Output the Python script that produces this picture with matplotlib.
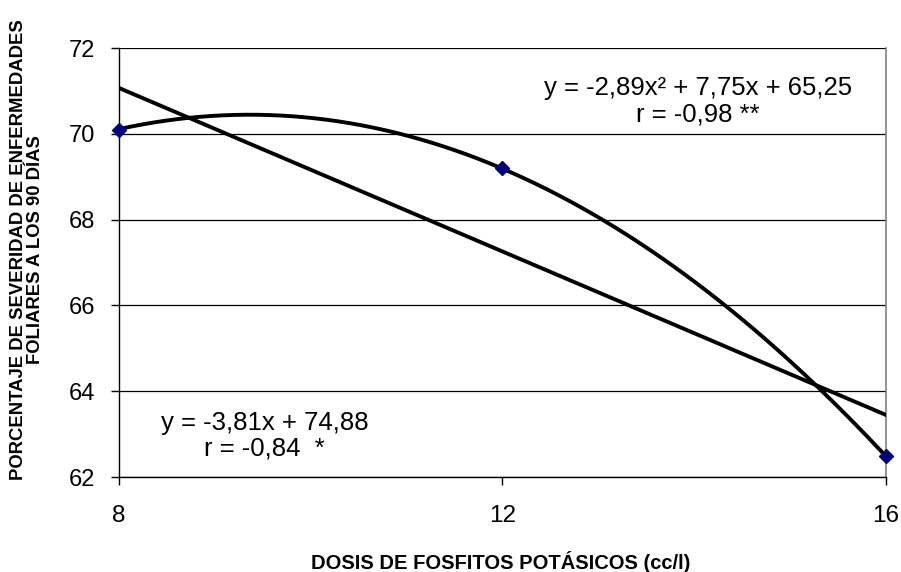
import numpy as np
import matplotlib.pyplot as plt

# Data
doses = ['8', '12', '16']
severity = [70.1, 69.2, 62.5]

# Trendline coefficients (x = 1, 2, 3 as in Excel)
lin_coef = [-3.81, 74.88]
quad_coef = [-2.89, 7.75, 65.25]

plt.rcParams['font.family'] = ['Liberation Sans', 'DejaVu Sans']

fig = plt.figure(figsize=(9.01, 5.72), dpi=100)
ax = fig.add_axes([0.132, 0.166, 0.851, 0.750])

xpos = np.arange(1, len(doses) + 1)
xs = np.linspace(1, 3, 200)

ax.plot(xs, np.polyval(quad_coef, xs), color='black', lw=2.8, zorder=3)
ax.plot(xs, np.polyval(lin_coef, xs), color='black', lw=2.8, zorder=3)
ax.plot(xpos, severity, linestyle='none', marker='D', color='#000080',
        markersize=7, zorder=4, clip_on=False)

ax.set_xlim(1, 3)
ax.set_ylim(62, 72)
ax.set_yticks([62, 64, 66, 68, 70, 72])
ax.set_xticks(xpos)
ax.set_xticklabels(doses)
ax.yaxis.grid(True, color='black', lw=0.9)
ax.set_axisbelow(True)

ax.spines['top'].set_visible(False)
ax.spines['right'].set_color('#808080')
ax.spines['right'].set_linewidth(1.2)
ax.spines['left'].set_linewidth(1.0)
ax.spines['bottom'].set_linewidth(1.0)
ax.tick_params(axis='both', direction='out', length=6, width=1.0)
ax.tick_params(axis='x', labelsize=17.5, pad=14)
ax.tick_params(axis='y', labelsize=17, pad=11)

ax.set_ylabel('PORCENTAJE DE SEVERIDAD DE ENFERMEDADES\nFOLIARES A LOS 90 DÍAS',
              fontsize=13.3, fontweight='bold', linespacing=0.95)
ax.yaxis.set_label_coords(-0.098, 0.53)
ax.set_xlabel('DOSIS DE FOSFITOS POTÁSICOS (cc/l)', fontsize=14.5,
              fontweight='bold')
ax.xaxis.set_label_coords(0.498, -0.172)

ax.text(0.755, 0.907, 'y = -2,89x² + 7,75x + 65,25', transform=ax.transAxes,
        ha='center', va='center', fontsize=18.5)
ax.text(0.755, 0.846, 'r = -0,98 **', transform=ax.transAxes,
        ha='center', va='center', fontsize=18.5)
ax.text(0.19, 0.126, 'y = -3,81x + 74,88', transform=ax.transAxes,
        ha='center', va='center', fontsize=18.5)
ax.text(0.19, 0.066, 'r = -0,84  *', transform=ax.transAxes,
        ha='center', va='center', fontsize=18.5)

plt.savefig('out.png', dpi=100)
